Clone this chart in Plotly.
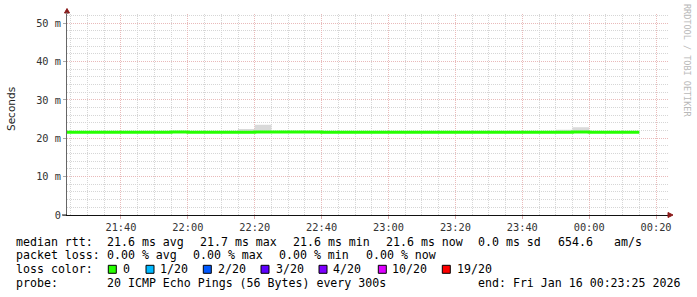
import plotly.graph_objects as go
import pandas as pd

# ---------------- data ----------------
interval_starts = list(pd.date_range("2026-01-15 21:20", "2026-01-16 00:10", freq="5min"))
series_end = pd.Timestamp("2026-01-16 00:15")

median_ms = [21.6, 21.6, 21.6, 21.6, 21.6, 21.6, 21.6, 21.66, 21.6, 21.6,
             21.6, 21.6, 21.66, 21.66, 21.66, 21.66, 21.6, 21.6, 21.6, 21.6,
             21.6, 21.6, 21.6, 21.6, 21.6, 21.6, 21.6, 21.6, 21.6, 21.6,
             21.6, 21.66, 21.6, 21.6, 21.6]
smoke_max_ms = [21.8, 21.8, 21.8, 21.8, 21.8, 21.8, 21.8, 21.8, 21.8, 21.8,
                21.8, 22.4, 23.5, 21.8, 21.8, 21.8, 21.8, 21.8, 21.8, 21.8,
                21.8, 21.8, 21.8, 21.8, 21.8, 21.8, 21.8, 21.8, 21.8, 21.8,
                22.2, 22.9, 21.8, 21.8, 21.8]
smoke_min_ms = [21.4, 21.4, 21.4, 21.4, 21.4, 21.4, 21.4, 21.4, 21.4, 21.4,
                21.4, 21.4, 21.4, 21.4, 21.4, 21.4, 21.4, 21.4, 21.4, 21.4,
                21.4, 21.4, 21.4, 21.4, 21.4, 21.4, 21.4, 21.4, 21.4, 21.4,
                21.4, 21.4, 21.4, 21.4, 21.4]

y_tick_values = [0, 10, 20, 30, 40, 50]
y_tick_labels = ["0", "10 m", "20 m", "30 m", "40 m", "50 m"]

rtt_items = ["21.6 ms avg", "21.7 ms max", "21.6 ms min", "21.6 ms now", "0.0 ms sd", "654.6", "am/s"]
loss_items = ["0.00 % avg", "0.00 % max", "0.00 % min", "0.00 % now"]
loss_labels = ["0", "1/20", "2/20", "3/20", "4/20", "10/20", "19/20"]
loss_colors = ["#26ff00", "#00b8ff", "#0059ff", "#5e00ff", "#7e00ff", "#dd00ff", "#ff0000"]
probe_text = "20 ICMP Echo Pings (56 Bytes) every 300s"
end_text = "end: Fri Jan 16 00:23:25 2026"

# ---------------- layout helpers ----------------
W, H = 697, 297
L, R, T, B = 67, 28, 14, 82
PW, PH = W - L - R, H - T - B


def fx(px):
    return (px - L) / PW


def fy(py):
    return (T + PH - py) / PH


x_steps = interval_starts + [series_end]
fig = go.Figure()
fig.add_trace(go.Scatter(x=x_steps, y=smoke_min_ms + [smoke_min_ms[-1]], mode="lines",
                         line=dict(width=0, shape="hv", color="#d9d9d9"), hoverinfo="skip",
                         showlegend=False))
fig.add_trace(go.Scatter(x=x_steps, y=smoke_max_ms + [smoke_max_ms[-1]], mode="lines",
                         line=dict(width=0, shape="hv", color="#d9d9d9"), fill="tonexty",
                         fillcolor="#d9d9d9", hoverinfo="skip", showlegend=False))
fig.add_trace(go.Scatter(x=x_steps, y=median_ms + [median_ms[-1]], mode="lines",
                         line=dict(width=3, shape="hv", color="#26ff00"), showlegend=False))

mono = "DejaVu Sans Mono"
tick_font = dict(family=mono, size=10.3, color="#333333")
major_grid = "#e9baba"
minor_grid = "#d6d6d6"

fig.update_layout(
    width=W, height=H, margin=dict(l=L, r=R, t=T, b=B, pad=0),
    paper_bgcolor="white", plot_bgcolor="white", showlegend=False,
    xaxis=dict(type="date", range=["2026-01-15 21:23:52", "2026-01-16 00:23:52"],
               tick0="2026-01-15 21:40", dtick=20 * 60 * 1000, tickformat="%H:%M",
               showgrid=True, gridcolor=major_grid, griddash="1px,1px", gridwidth=1,
               minor=dict(dtick=5 * 60 * 1000, showgrid=True, gridcolor=minor_grid,
                          griddash="1px,1px", gridwidth=1),
               showline=True, linecolor="#111111", linewidth=1,
               ticks="outside", ticklen=3, tickcolor="#d8a8a8", tickfont=tick_font,
               zeroline=False, fixedrange=True),
    yaxis=dict(range=[0, 52.4], tickvals=y_tick_values, ticktext=y_tick_labels,
               showgrid=True, gridcolor=major_grid, griddash="1px,1px", gridwidth=1,
               minor=dict(dtick=2, showgrid=True, gridcolor=minor_grid,
                          griddash="1px,1px", gridwidth=1),
               showline=True, linecolor="#666666", linewidth=1,
               ticks="outside", ticklen=3, tickcolor="#aaaaaa", tickfont=tick_font,
               zeroline=False, fixedrange=True),
)

anns = []
leg_font = dict(family=mono, size=11.6, color="#000000")


def text_at(px, py, s, **kw):
    anns.append(dict(x=fx(px), y=fy(py), xref="paper", yref="paper", text=s, showarrow=False,
                     xanchor=kw.get("xanchor", "left"), yanchor="middle",
                     font=kw.get("font", leg_font), textangle=kw.get("textangle", 0),
                     borderpad=0))


rows_y = [241.5, 255.3, 269.3, 283.0]
text_at(15, rows_y[0], "median rtt:")
for xp, s in zip([106.3, 199, 292.3, 385, 477.3, 557.3, 613], rtt_items):
    text_at(xp, rows_y[0], s)
text_at(15, rows_y[1], "packet loss:")
for xp, s in zip([106.3, 192.3, 278.3, 365], loss_items):
    text_at(xp, rows_y[1], s)
text_at(15, rows_y[2], "loss color:")
box_x = [108.3, 146, 203.3, 261, 319, 378.3, 442.3]
lab_x = [122.3, 159, 217.3, 275, 332.3, 390.7, 455.7]
shapes = []
for bx, lx, lab, col in zip(box_x, lab_x, loss_labels, loss_colors):
    text_at(lx, rows_y[2], lab)
    shapes.append(dict(type="rect", xref="paper", yref="paper", x0=fx(bx), x1=fx(bx + 8),
                       y0=fy(rows_y[2] + 4), y1=fy(rows_y[2] - 4), fillcolor=col,
                       line=dict(color="#000000", width=1)))
text_at(15, rows_y[3], "probe:")
text_at(106.3, rows_y[3], probe_text)
text_at(477.3, rows_y[3], end_text)

# y axis title and watermark
text_at(11, 109, "Seconds", xanchor="center",
        font=dict(family="DejaVu Sans", size=10.5, color="#222222"), textangle=-90)
text_at(687, 60, "RRDTOOL / TOBI OETIKER", xanchor="center",
        font=dict(family=mono, size=8.5, color="#b8b8b8"), textangle=90)

# axis arrows
arrow_col = "#8b1a1a"
shapes.append(dict(type="path", xref="paper", yref="paper", layer="above",
                   path=f"M{fx(64.5):.5f},{fy(13):.5f} L{fx(67):.5f},{fy(8.5):.5f} L{fx(69.5):.5f},{fy(13):.5f} Z",
                   fillcolor=arrow_col, line=dict(color=arrow_col, width=1)))
shapes.append(dict(type="path", xref="paper", yref="paper", layer="above",
                   path=f"M{fx(668):.5f},{fy(212.5):.5f} L{fx(673):.5f},{fy(215):.5f} L{fx(668):.5f},{fy(217.5):.5f} Z",
                   fillcolor=arrow_col, line=dict(color=arrow_col, width=1)))
shapes.append(dict(type="line", xref="paper", yref="paper", x0=fx(67), x1=fx(67),
                   y0=fy(12), y1=fy(14), line=dict(color="#666666", width=1)))
shapes.append(dict(type="line", xref="paper", yref="paper", x0=fx(62), x1=fx(67),
                   y0=fy(215), y1=fy(215), line=dict(color="#111111", width=1)))

fig.update_layout(annotations=anns, shapes=shapes)
fig.write_html("out.html")
